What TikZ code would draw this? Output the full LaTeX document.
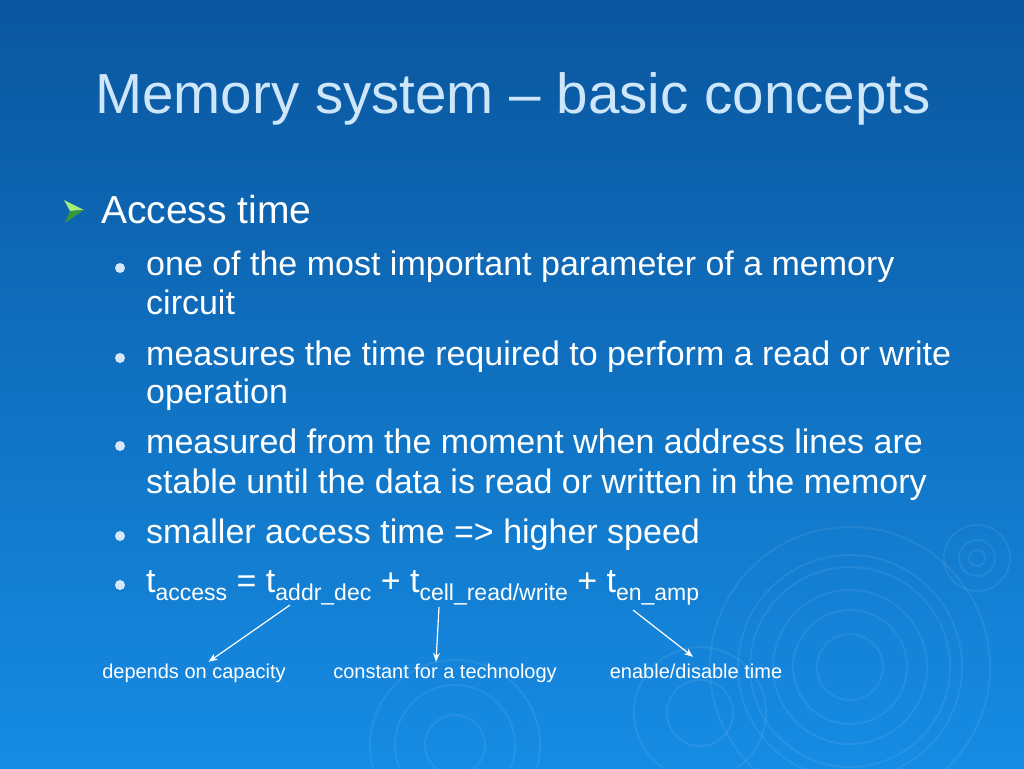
\documentclass[tikz,border=0pt]{standalone}
\usepackage{fontspec}
\setmainfont{Liberation Sans}
\usetikzlibrary{arrows.meta, positioning}
\definecolor{bgtop}{RGB}{10,86,158}
\definecolor{bgbot}{RGB}{22,140,228}
\definecolor{titleblue}{RGB}{205,230,250}
\definecolor{dotblue}{RGB}{215,232,250}
\definecolor{leafgreen}{RGB}{165,238,125}
\definecolor{darkleaf}{RGB}{55,150,60}
\newcommand{\tsub}[1]{\raisebox{-8pt}{\fontsize{23}{23}\selectfont #1}}

\begin{document}
\begin{tikzpicture}[x=1pt, y=-1pt, >={Stealth[length=9pt, width=7pt]},
    title node/.style={font=\fontsize{56.5}{60}\selectfont, text=titleblue, anchor=base, inner sep=0pt},
    head node/.style={font=\fontsize{39}{44}\selectfont, text=white, anchor=base west, inner sep=0pt},
    item node/.style={font=\fontsize{34}{40}\selectfont, text=white, anchor=base west, inner sep=0pt},
    dot node/.style={circle, fill=dotblue, minimum size=10pt, inner sep=0pt},
    note node/.style={font=\fontsize{20}{24}\selectfont, text=white, anchor=base,
      text height=16pt, text depth=4pt, inner sep=0pt},
    ripple/.style={draw=white, draw opacity=0.07, line width=2pt}]
  \useasboundingbox (0,0) rectangle (1024,768);
  \shade[top color=bgtop, bottom color=bgbot] (0,0) rectangle (1024,768);
  % ripples in the background
  \foreach \r in {33,57,77,100,112,140}
    \draw[ripple] (850,667) circle (\r);
  \foreach \r in {8,18,33}
    \draw[ripple] (977,558) circle (\r);
  \foreach \r in {33,66}
    \draw[ripple] (700,713) circle (\r);
  \foreach \r in {30,60,85}
    \draw[ripple] (455,745) circle (\r);

  \node[title node] (title) at (513,113) {Memory system – basic concepts};

  % green arrow bullet
  \fill[leafgreen] (64,200) -- (84,210) -- (70,211) -- cycle;
  \fill[darkleaf] (70,211) -- (84,210) -- (65,223) -- cycle;
  \node[head node] (access) at (101,223) {Access time};

  \foreach \i/\y/\txt in {1/275/one of the most important parameter of a memory,
      2/314/circuit,
      3/365/measures the time required to perform a read or write,
      4/403/operation,
      5/453/measured from the moment when address lines are,
      6/493/stable until the data is read or written in the memory,
      7/543/smaller access time => higher speed}
    \node[item node] (line\i) at (146,\y) {\txt};
  \node[item node] (line9) at (146,592)
    {t\tsub{access} = t\tsub{addr\_dec} + t\tsub{cell\_read/write} + t\tsub{en\_amp}};
  \foreach \i/\y in {1/275, 3/365, 5/453, 7/543, 9/592}
    \node[dot node] (dot\i) at (120,\y-7) {};

  \node[note node] (cap) at (194,678) {depends on capacity};
  \node[note node] (tech) at (445,678) {constant for a technology};
  \node[note node] (enable) at (696,678) {enable/disable time};
  \coordinate (dec) at (290,605);
  \coordinate (cell) at (439,607);
  \coordinate (amp) at (633,610);
  \path[->, white, line width=1.2pt]
    (dec) edge (cap)
    (cell) edge ([xshift=-9pt]tech.north)
    (amp) edge ([xshift=-3pt, yshift=5pt]enable.north);
\end{tikzpicture}
\end{document}
